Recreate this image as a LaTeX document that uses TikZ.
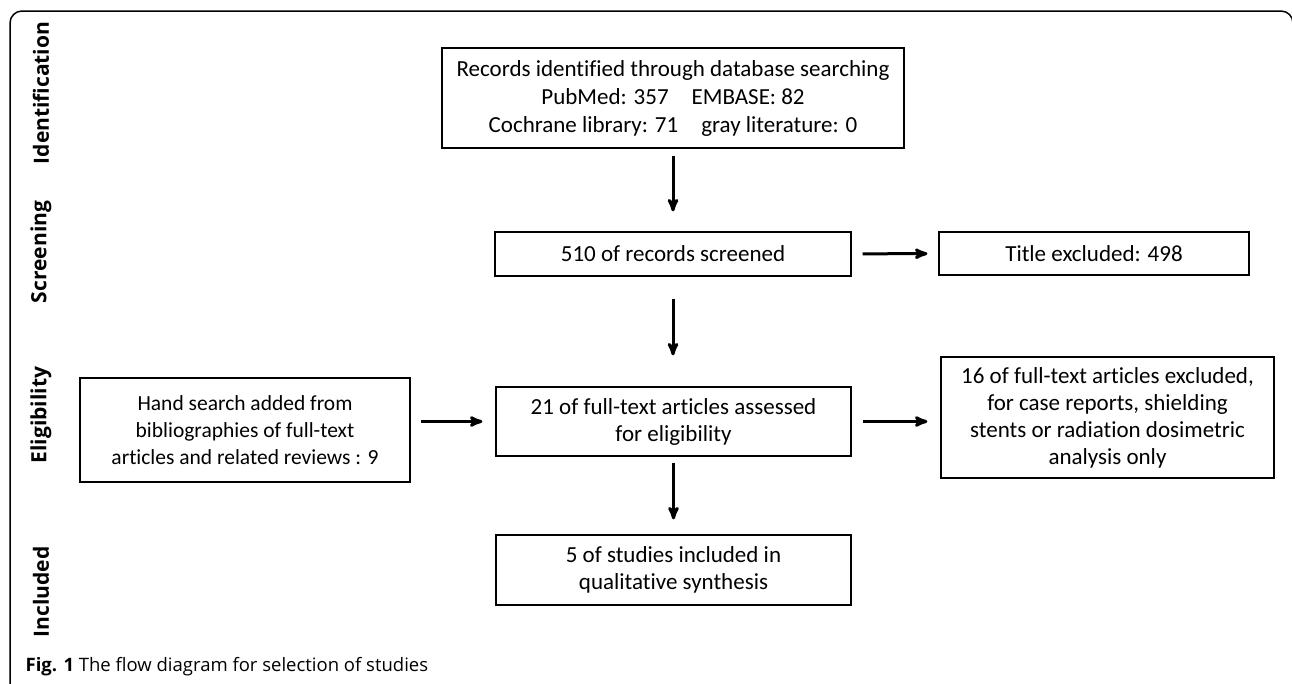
\documentclass[tikz,border=0pt]{standalone}
\usepackage{fontspec}
\setmainfont{Carlito}[Ligatures=NoCommon]
\newfontfamily\stagefont{Open Sans}
\newfontfamily\capfont{Open Sans}
\usetikzlibrary{arrows,positioning}

\begin{document}
\begin{tikzpicture}[x=1pt, y=-1pt, >=stealth', line width=1.2pt,
  box/.style={draw, rectangle, align=center, inner sep=0pt, font=\fontsize{23}{27}\selectfont},
  flow/.style={->, line width=3pt},
  stage/.style={rotate=90, font=\stagefont\bfseries\fontsize{21}{24}\selectfont}]
\useasboundingbox (0,0) rectangle (1292,683);

% frame round the chart
\draw[line width=1.5pt, rounded corners=12pt] (10,720) -- (10,11) -- (1293,11) -- (1293,720);

% stages
\node[stage] (ident) at (41,93) {Identification};
\node[stage] (scree) at (41,252) {Screening};
\node[stage] (eligi) at (41,415) {Eligibility};
\node[stage] (inclu) at (41,592) {Included};

% boxes
\node[box, minimum width=462pt, minimum height=100pt, font=\fontsize{23}{28}\selectfont] (recs) at (673,98)
  {Records identified through database searching\\PubMed: 357\quad EMBASE: 82\\Cochrane library: 71\quad gray literature: 0};
\node[box, minimum width=356pt, minimum height=44pt] (screen) at (673,254) {510 of records screened};
\node[box, minimum width=310pt, minimum height=43pt] (title) at (1094,253.5) {Title excluded: 498};
\node[box, minimum width=330pt, minimum height=104pt, font=\fontsize{21.5}{27}\selectfont] (hand) at (245,430)
  {Hand search added from\\bibliographies of full-text\\articles and related reviews : 9};
\node[box, minimum width=355pt, minimum height=69pt] (full) at (673.5,421.5)
  {21 of full-text articles assessed\\for eligibility};
\node[box, minimum width=333pt, minimum height=121pt] (excl) at (1107.5,417.5)
  {16 of full-text articles excluded,\\for case reports, shielding\\stents or radiation dosimetric\\analysis only};
\node[box, minimum width=355pt, minimum height=70pt] (incl) at (673.5,570)
  {5 of studies included in\\qualitative synthesis};

% arrows
\draw[flow, shorten <=7pt, shorten >=20pt] (recs.south -| screen.north) -- (screen.north);
\draw[flow, shorten <=11pt, shorten >=11pt] (screen) -- (title);
\draw[flow, shorten <=22pt, shorten >=31pt] (screen.south) -- (screen.south |- full.north);
\draw[flow, shorten <=10pt, shorten >=13pt] (hand.east |- full.west) -- (full.west);
\draw[flow, shorten <=11pt, shorten >=13pt] (full.east) -- (full.east -| excl.west);
\draw[flow, shorten <=6pt, shorten >=15pt] (full.south) -- (full.south |- incl.north);

% caption
\node[anchor=west, inner sep=0pt, font=\capfont\fontsize{18.5}{22}\selectfont] (cap) at (25,667)
  {\textbf{Fig. 1} The flow diagram for selection of studies};
\end{tikzpicture}
\end{document}
